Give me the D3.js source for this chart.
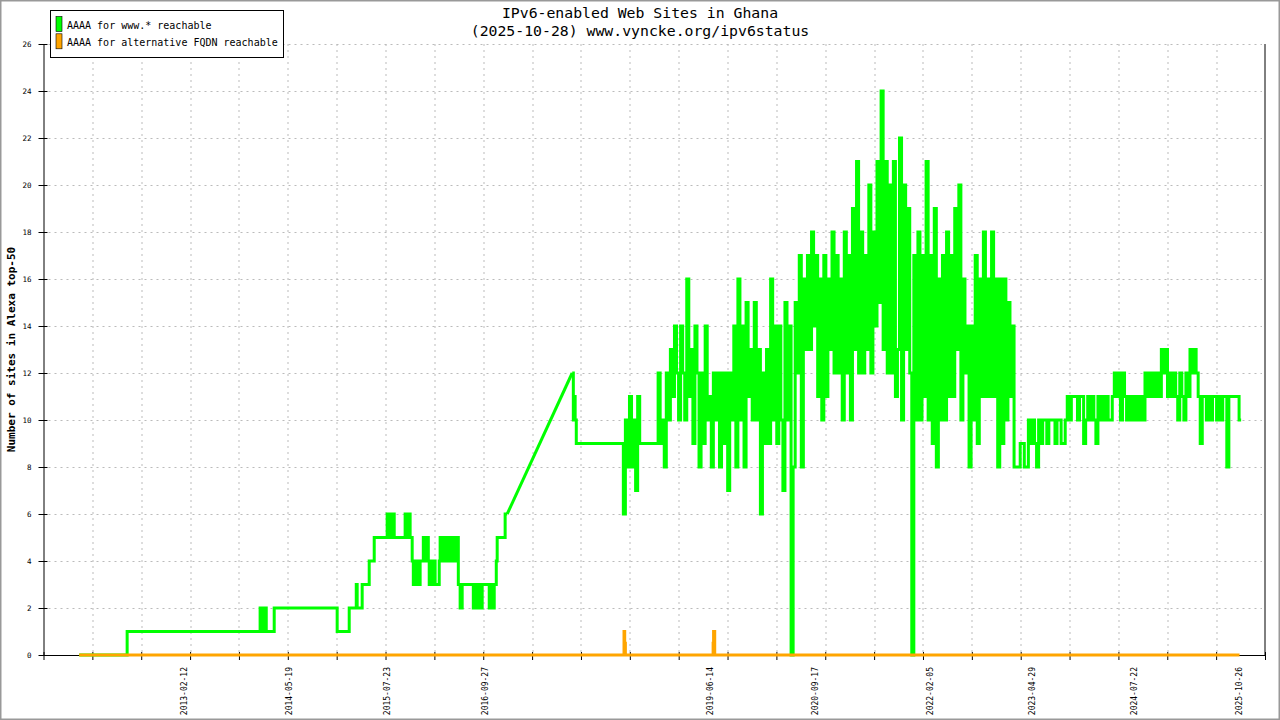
<!DOCTYPE html>
<html>
<head>
<meta charset="utf-8">
<script src="https://cdn.jsdelivr.net/npm/d3@7"></script>
<style>
  body { margin: 0; background: #fff; }
  svg { display: block; font-family: "DejaVu Sans Mono", monospace; }
</style>
</head>
<body>
<div id="chart"></div>
<script>
// Chart text
const titleLines = ["IPv6-enabled Web Sites in Ghana", "(2025-10-28) www.vyncke.org/ipv6status"];
const yLabel = "Number of sites in Alexa top-50";
const seriesNames = ["AAAA for www.* reachable", "AAAA for alternative FQDN reachable"];
const seriesColors = ["#00ff00", "#ffa500"];

// Time axis
const baseDate = "2011-11-06";           // day 0 for all day offsets below
const xRange = ["2011-06-02", "2026-02-17"];
const xTickCount = 26;                   // evenly spaced tick marks incl. both ends
const xLabelDates = ["2013-02-12", "2014-05-19", "2015-07-23", "2016-09-27", "2019-06-14",
                     "2020-09-17", "2022-02-05", "2023-04-29", "2024-07-22", "2025-10-26"];
const yTicks = [0, 2, 4, 6, 8, 10, 12, 14, 16, 18, 20, 22, 24, 26];
const yMax = 26;

// www.* series, part 1: [day offset, value] step points up to the data gap
const greenEarly = [[0,0],[211,1],[796,2],[805,1],[810,2],[823,1],[858,2],[1135,1],[1188,2],
  [1219,3],[1223,2],[1245,3],[1276,4],[1298,5],[1355,6],[1364,5],[1368,6],[1373,5],[1377,6],
  [1386,5],[1434,6],[1441,5],[1444,6],[1456,5],[1465,4],[1470,3],[1474,4],[1478,3],[1487,4],
  [1492,3],[1500,4],[1514,5],[1522,4],[1527,5],[1536,4],[1540,3],[1544,4],[1553,3],[1558,4],
  [1566,3],[1584,4],[1588,5],[1597,4],[1606,5],[1615,4],[1619,5],[1632,4],[1641,5],[1650,4],
  [1659,5],[1668,3],[1676,2],[1685,3],[1734,2],[1742,3],[1747,2],[1756,3],[1764,2],[1773,3],
  [1804,2],[1812,3],[1817,2],[1826,3],[1835,4],[1839,5],[1874,6],[1883,6]];

// www.* series, part 2: points after the gap
const greenMid = [[2169,12],[2174,10],[2178,11],[2182,10],[2187,9]];

// www.* series, part 3: one reading every 9 days from day 2394
const greenRecentStart = 2394;
const greenRecentStep = 9;
const greenRecent = [
  6,10,8,11,8,10,7,11,9,9, 9,9,9,9,9,9,9,12,9,10, 8,12,10,13,11,14,12,10,14,12,
  10,16,11,13,9,14,12,8,12,9, 14,10,11,8,12,10,12,8,12,9, 12,7,12,10,14,8,16,10,14,8,
  15,11,13,10,15,10,13,6,12,9, 13,9,16,10,14,9,14,10,7,15, 10,14,0,8,15,12,17,8,16,13,
  17,13,18,14,17,11,16,10,17,11, 16,13,18,12,17,12,16,10,18,12, 17,10,19,13,21,12,18,12,17,13,
  20,12,18,14,21,15,24,13,21,12, 20,12,21,11,13,22,10,20,13,19, 12,0,17,10,18,10,17,11,21,10,
  17,9,19,8,16,10,17,10,18,11, 17,11,19,13,20,10,16,12,14,8, 14,10,17,9,16,11,18,11,16,11,
  18,11,16,8,16,9,16,10,15,11,14,
  8,8,8,9,9,8,8,10,9,10, 9,8,10,9,10,10,9,10,10,10, 9,10,10,9,9,10,11,10,11,11,
  11,10,11,11,9,10,11,10,11,10, 9,11,10,11,10,11,10,10,11,12, 11,12,10,12,11,10,11,10,11,10,
  11,10,11,10,12,11,12,11,12,11, 12,11,13,12,13,11,12,11,12,11, 10,12,11,10,12,11,13,12,13,12,
  11,9,11,11,10,11,10,11,11,10, 11,10,11,11,8,11,11,11,11,11, 10,10];

// alternative FQDN series: [day offset, value] step points
const orangeSeries = [[0,0],[2397,1],[2400,0.5],[2403,0],[2789,0.5],[2791,1],[2796,0],[5105,0]];

// Layout
const W = 1280, H = 720;
const margin = { top: 44, right: 15, bottom: 65, left: 43.5 },
      width = W - margin.left - margin.right,
      height = H - margin.top - margin.bottom;

const parse = d3.utcParse("%Y-%m-%d");
const base = parse(baseDate);
const day = n => d3.utcDay.offset(base, n);

const svg = d3.select("#chart").append("svg")
    .attr("width", W)
    .attr("height", H);

// outer frame
svg.append("rect")
    .attr("x", 0.75).attr("y", 0.75)
    .attr("width", W - 1.5).attr("height", H - 1.5)
    .attr("fill", "#fff")
    .attr("stroke", "#999")
    .attr("stroke-width", 1.5);

const g = svg.append("g")
    .attr("transform", `translate(${margin.left},${margin.top})`);

// Scales
const x = d3.scaleUtc().domain(xRange.map(parse)).range([0, width]);
const y = d3.scaleLinear().domain([0, yMax]).range([height, 0]);

const [x0, x1] = x.domain();
const xTicks = d3.range(xTickCount).map(i => new Date(+x0 + i * (x1 - x0) / (xTickCount - 1)));

// Grid
const grid = g.append("g")
    .attr("stroke", "#bbb")
    .attr("stroke-width", 1)
    .attr("stroke-dasharray", "2,4");

grid.selectAll("line.v")
    .data(xTicks.slice(1, -1))
    .enter().append("line")
    .attr("class", "v")
    .attr("x1", d => Math.round(x(d)) + 0.5)
    .attr("x2", d => Math.round(x(d)) + 0.5)
    .attr("y1", 0)
    .attr("y2", height);

grid.selectAll("line.h")
    .data(yTicks.filter(d => d > 0))
    .enter().append("line")
    .attr("class", "h")
    .attr("x1", 5)
    .attr("x2", width - 3)
    .attr("y1", d => Math.round(y(d)) + 0.5)
    .attr("y2", d => Math.round(y(d)) + 0.5);

// Axes
const yAxis = g.append("g")
    .call(d3.axisLeft(y).tickValues(yTicks).tickSize(5).tickSizeOuter(0).tickPadding(7));
yAxis.selectAll(".tick line").attr("x1", 4).attr("stroke", "#000");
yAxis.select(".domain").attr("stroke", "#000");
yAxis.selectAll("text")
    .style("font-family", "'DejaVu Sans Mono', monospace")
    .style("font-size", "7.5px")
    .attr("fill", "#000");

const xAxis = g.append("g")
    .attr("transform", `translate(0,${height})`)
    .call(d3.axisBottom(x).tickValues(xTicks).tickFormat("").tickSize(5).tickSizeOuter(0));
xAxis.selectAll(".tick line").attr("y1", -3).attr("stroke", "#000");
xAxis.select(".domain").attr("stroke", "#000");

// right border
g.append("line")
    .attr("x1", width).attr("x2", width)
    .attr("y1", 0).attr("y2", height)
    .attr("stroke", "#000");

// Date labels
g.append("g").selectAll("text")
    .data(xLabelDates)
    .enter().append("text")
    .attr("transform", d => `translate(${x(parse(d))},${height + 12}) rotate(-90)`)
    .attr("text-anchor", "end")
    .attr("dy", "0.35em")
    .style("font-size", "8px")
    .text(d => d);

// Lines
const stepLine = d3.line()
    .curve(d3.curveStepAfter)
    .x(d => x(day(d[0])))
    .y(d => y(d[1]));
const straight = d3.line()
    .x(d => x(day(d[0])))
    .y(d => y(d[1]));

const recentPoints = greenRecent.map((v, i) => [greenRecentStart + i * greenRecentStep, v]);
const greenLate = greenMid.concat(recentPoints);

const lines = g.append("g")
    .attr("fill", "none")
    .attr("stroke-width", 3)
    .attr("stroke-linejoin", "miter")
    .attr("stroke-linecap", "butt");

lines.append("path").attr("d", stepLine(greenEarly)).attr("stroke", seriesColors[0]);
lines.append("path")
    .attr("d", straight([greenEarly[greenEarly.length - 1], greenMid[0]]))
    .attr("stroke", seriesColors[0]);
lines.append("path").attr("d", stepLine(greenLate)).attr("stroke", seriesColors[0]);
lines.append("path").attr("d", stepLine(orangeSeries)).attr("stroke", seriesColors[1]);

// Titles
svg.append("g").selectAll("text")
    .data(titleLines)
    .enter().append("text")
    .attr("x", W / 2)
    .attr("y", (d, i) => 18 + i * 18)
    .attr("text-anchor", "middle")
    .style("font-size", "14.8px")
    .text(d => d);

svg.append("text")
    .attr("transform", `translate(11.5,${margin.top + height / 2}) rotate(-90)`)
    .attr("text-anchor", "middle")
    .attr("dy", "0.35em")
    .style("font-size", "11px")
    .style("font-weight", "bold")
    .text(yLabel);

// Legend
const legend = svg.append("g").attr("transform", "translate(50.5,10.5)");
legend.append("rect")
    .attr("width", 233)
    .attr("height", 47)
    .attr("fill", "#fff")
    .attr("stroke", "#000");

const items = legend.selectAll("g.item")
    .data(seriesNames)
    .enter().append("g")
    .attr("class", "item")
    .attr("transform", (d, i) => `translate(0,${i * 17.3})`);

items.append("rect")
    .attr("x", 5.5).attr("y", 6)
    .attr("width", 6).attr("height", 15)
    .attr("fill", (d, i) => seriesColors[i])
    .attr("stroke", "#000")
    .attr("stroke-width", 0.6);

items.append("text")
    .attr("x", 16.5)
    .attr("y", 18.5)
    .style("font-size", "10px")
    .text(d => d);
</script>
</body>
</html>
